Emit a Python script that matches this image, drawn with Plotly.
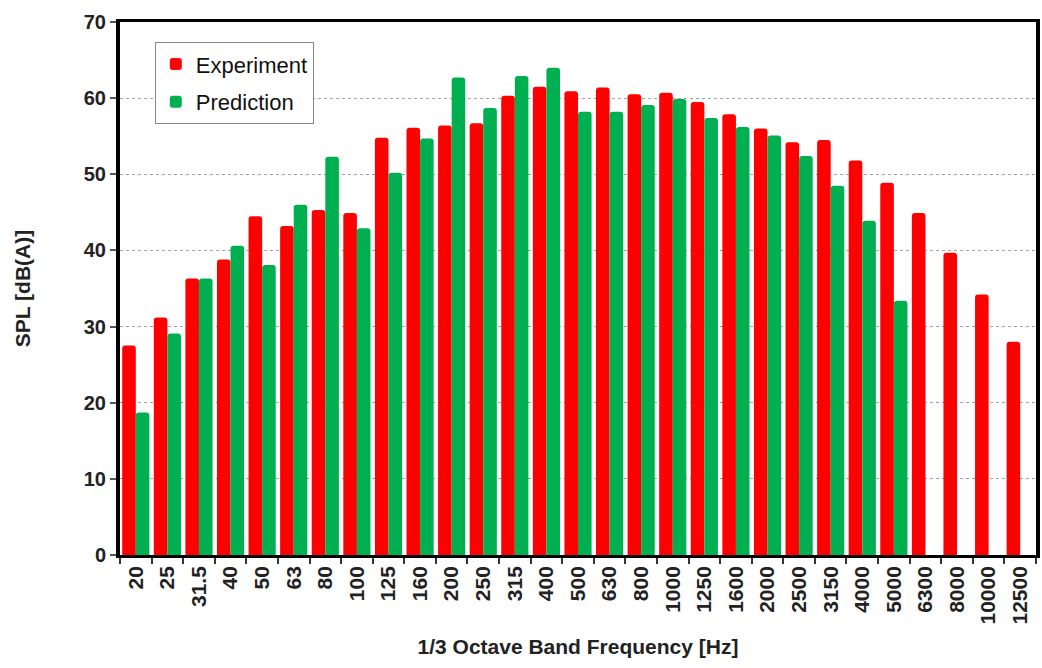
import plotly.graph_objects as go

bands = ["20", "25", "31.5", "40", "50", "63", "80", "100", "125", "160", "200",
         "250", "315", "400", "500", "630", "800", "1000", "1250", "1600", "2000",
         "2500", "3150", "4000", "5000", "6300", "8000", "10000", "12500"]

experiment = [27.5, 31.2, 36.3, 38.8, 44.5, 43.2, 45.3, 44.9, 54.8, 56.1, 56.4,
              56.7, 60.3, 61.5, 60.9, 61.4, 60.5, 60.7, 59.5, 57.9, 56.0,
              54.2, 54.5, 51.8, 48.9, 44.9, 39.7, 34.2, 28.0]

prediction = [18.7, 29.1, 36.3, 40.6, 38.1, 46.0, 52.3, 42.9, 50.2, 54.7, 62.7,
              58.7, 62.9, 64.0, 58.2, 58.2, 59.1, 59.9, 57.4, 56.2, 55.1,
              52.4, 48.5, 43.9, 33.4, None, None, None, None]

y_ticks = [0, 10, 20, 30, 40, 50, 60, 70]

FONT = "Liberation Sans, Arial, sans-serif"

fig = go.Figure()
fig.add_trace(go.Bar(x=bands, y=experiment, name="Experiment", legendgroup="exp",
                     marker=dict(color="#FF0000", cornerradius=3, line=dict(width=0))))
fig.add_trace(go.Bar(x=bands, y=prediction, name="Prediction", legendgroup="pred",
                     marker=dict(color="#00B050", cornerradius=3, line=dict(width=0))))

fig.update_layout(
    width=1042, height=668,
    margin=dict(l=120, r=2, t=22, b=113),
    paper_bgcolor="white", plot_bgcolor="white",
    barmode="group", bargap=0.14, bargroupgap=0.0,
    font=dict(family=FONT, color="#222222"),
    legend=dict(x=0.038, y=0.962, xanchor="left", yanchor="top",
                bgcolor="white", bordercolor="#888888", borderwidth=1,
                font=dict(size=22, color="#111111"),
                itemwidth=30, traceorder="grouped", tracegroupgap=6),
    showlegend=True,
)

fig.update_xaxes(
    type="category", tickangle=-90, tickson="boundaries",
    ticks="outside", ticklen=6, tickwidth=1.5, tickcolor="#333333",
    tickfont=dict(size=21, family=FONT, color="#222222", weight="bold"),
    showline=True, linecolor="black", linewidth=2.5, mirror=True,
    showgrid=False,
    title=dict(text="1/3 Octave Band Frequency [Hz]",
               font=dict(size=21, family=FONT, color="#222222", weight="bold"),
               standoff=16),
)

fig.update_yaxes(
    range=[0, 70], tickvals=y_ticks,
    ticks="outside", ticklen=6, tickwidth=1.5, tickcolor="#555555",
    tickfont=dict(size=20, family=FONT, color="#222222", weight="bold"),
    showline=True, linecolor="black", linewidth=4, mirror=True,
    showgrid=True, gridcolor="#A0A0A0", griddash="dot", gridwidth=1.2,
    zeroline=False,
    title=dict(text="SPL [dB(A)]",
               font=dict(size=21, family=FONT, color="#222222", weight="bold"),
               standoff=48),
)

fig.write_html("out.html")
